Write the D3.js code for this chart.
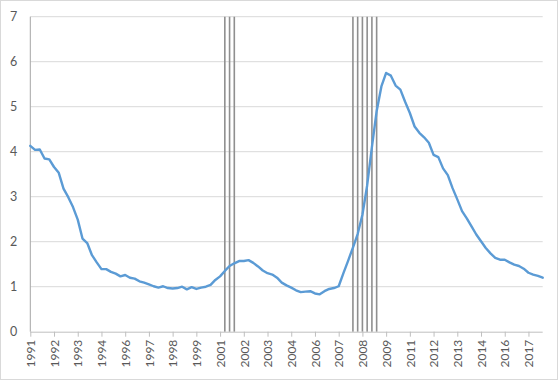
<!DOCTYPE html>
<html>
<head>
<meta charset="utf-8">
<script src="https://cdn.jsdelivr.net/npm/d3@7"></script>
<style>
  html, body { margin: 0; padding: 0; background: #fff; }
  svg { display: block; }
  text { font-family: "Lato", "Open Sans", "Liberation Sans", sans-serif; fill: #595959; }
</style>
</head>
<body>
<div id="chart"></div>
<script>
// ---------- data ----------
const firstYear = 1991;
const quarterCount = 109; // 1991Q1 .. 2018Q1
const categories = [];
for (let i = 0; i < quarterCount; i++) {
  categories.push((firstYear + Math.floor(i / 4)) + "Q" + (i % 4 + 1));
}

const values = [
  4.13, 4.04, 4.05, 3.85, 3.83, 3.66, 3.53, 3.18, 2.99, 2.77,
  2.49, 2.07, 1.97, 1.70, 1.54, 1.39, 1.39, 1.33, 1.29, 1.23,
  1.26, 1.20, 1.18, 1.12, 1.09, 1.05, 1.01, 0.98, 1.01, 0.97,
  0.96, 0.97, 1.00, 0.94, 0.99, 0.95, 0.98, 1.00, 1.04, 1.15,
  1.23, 1.35, 1.46, 1.52, 1.57, 1.57, 1.59, 1.53, 1.45, 1.36,
  1.30, 1.27, 1.20, 1.09, 1.03, 0.98, 0.92, 0.88, 0.89, 0.90,
  0.85, 0.83, 0.90, 0.95, 0.97, 1.01, 1.30, 1.58, 1.87, 2.17,
  2.60, 3.25, 4.10, 4.90, 5.45, 5.75, 5.69, 5.47, 5.38, 5.11,
  4.86, 4.56, 4.42, 4.32, 4.20, 3.93, 3.88, 3.63, 3.48, 3.19,
  2.94, 2.68, 2.52, 2.34, 2.16, 2.01, 1.86, 1.74, 1.64, 1.60,
  1.60, 1.54, 1.49, 1.46, 1.40, 1.31, 1.27, 1.24, 1.20
];

const recessionQuarters = [
  "2001Q2", "2001Q3", "2001Q4",
  "2008Q1", "2008Q2", "2008Q3", "2008Q4", "2009Q1", "2009Q2"
];

// every 5th quarter gets a labelled tick
const tickCategories = categories.filter((d, i) => i % 5 === 0);
const tickLabels = ["1991","1992","1993","1994","1996","1997","1998","1999","2001","2002","2003",
                    "2004","2006","2007","2008","2009","2011","2012","2013","2014","2016","2017"];
const yTicks = [0, 1, 2, 3, 4, 5, 6, 7];

// ---------- layout ----------
const W = 558, H = 380;
const mLeft = 30.3, mRight = 542.7, mTop = 16.7, mBottom = 331.7;

const svg = d3.select("#chart").append("svg")
  .attr("width", W).attr("height", H);

// outer chart border
svg.append("rect")
  .attr("x", 0.5).attr("y", 0.5).attr("width", W - 1).attr("height", H - 1)
  .attr("fill", "#fff").attr("stroke", "#d9d9d9").attr("stroke-width", 1);

const x = d3.scalePoint().domain(categories).range([mLeft, mRight]);
const y = d3.scaleLinear().domain([0, 7]).range([mBottom, mTop]);

// horizontal gridlines
svg.append("g").selectAll("line")
  .data(yTicks.filter(d => d > 0))
  .join("line")
  .attr("x1", mLeft).attr("x2", mRight)
  .attr("y1", d => y(d)).attr("y2", d => y(d))
  .attr("stroke", "#d9d9d9").attr("stroke-width", 1);

// y axis labels
const yAxis = d3.axisLeft(y).tickValues(yTicks).tickSize(0).tickPadding(0).tickFormat(d3.format("d"));
const gy = svg.append("g").attr("transform", `translate(${mLeft - 13},0)`).call(yAxis);
gy.select(".domain").remove();
gy.selectAll("text").style("font-size", "12.5px").attr("fill", "#595959")
  .attr("font-family", "Lato, 'Open Sans', sans-serif");

// recession markers
svg.append("g").selectAll("line")
  .data(recessionQuarters)
  .join("line")
  .attr("x1", d => x(d)).attr("x2", d => x(d))
  .attr("y1", mTop).attr("y2", mBottom)
  .attr("stroke", "#8f8f8f").attr("stroke-width", 1.6);

// left axis line
svg.append("line")
  .attr("x1", mLeft).attr("x2", mLeft).attr("y1", mTop).attr("y2", mBottom)
  .attr("stroke", "#a6a6a6").attr("stroke-width", 1);

// bottom axis
const labelMap = new Map(tickCategories.map((c, i) => [c, tickLabels[i]]));
const xAxis = d3.axisBottom(x).tickValues(tickCategories).tickSize(5).tickPadding(3)
  .tickFormat(d => labelMap.get(d));
const gx = svg.append("g").attr("transform", `translate(0,${mBottom})`).call(xAxis);
gx.select(".domain").attr("stroke", "#bfbfbf").attr("d", `M${mLeft},0.5H${mRight}`);
gx.selectAll(".tick line").attr("stroke", "#bfbfbf");
gx.selectAll("text")
  .style("font-size", "12px")
  .attr("fill", "#595959")
  .attr("font-family", "Lato, 'Open Sans', sans-serif")
  .attr("text-anchor", "end")
  .attr("dy", "0.35em")
  .attr("dx", "0")
  .attr("x", -8)
  .attr("y", 0)
  .attr("transform", "rotate(-90)");

// data line
const line = d3.line()
  .x((d, i) => x(categories[i]))
  .y(d => y(d));

svg.append("path")
  .datum(values)
  .attr("fill", "none")
  .attr("stroke", "#5b9bd5")
  .attr("stroke-width", 2.4)
  .attr("stroke-linejoin", "round")
  .attr("stroke-linecap", "round")
  .attr("d", line);
</script>
</body>
</html>
